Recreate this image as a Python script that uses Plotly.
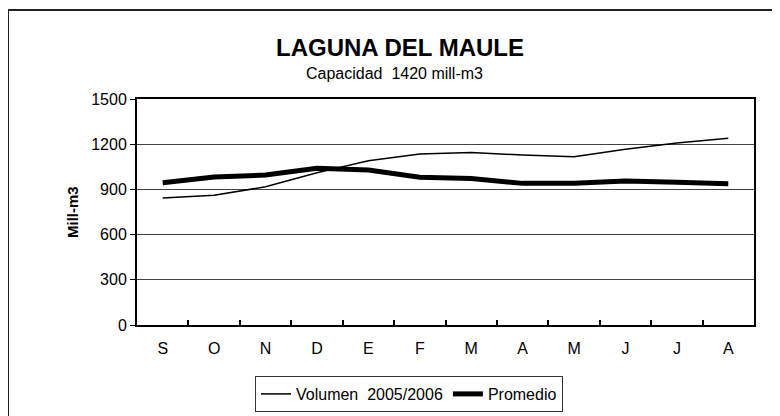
import plotly.graph_objects as go

months = ["S", "O", "N", "D", "E", "F", "M", "A", "M ", "J", "J ", "A "]
month_labels = ["S", "O", "N", "D", "E", "F", "M", "A", "M", "J", "J", "A"]
volumen = [843, 862, 917, 1010, 1090, 1135, 1145, 1128, 1117, 1167, 1208, 1240]
promedio = [944, 982, 995, 1040, 1028, 980, 972, 940, 940, 955, 947, 938]
y_ticks = [0, 300, 600, 900, 1200, 1500]

FONT = "Liberation Sans, Arial, sans-serif"
OFF = 8  # default page body margin
W, H = 780 - OFF, 416 - OFF
# plot area in window pixels: x 137..754, y 99..325
L, R, T, B = 137 - OFF, 780 - 754, 99 - OFF, 416 - 325
pw, ph = W - L - R, H - T - B

def px_x(x):
    return (x - OFF - L) / pw

def px_y(y):
    return (H - B - (y - OFF)) / ph

fig = go.Figure()
fig.add_trace(go.Scatter(x=months, y=volumen, mode="lines", name="Volumen  2005/2006",
                         line=dict(color="black", width=1.5)))
fig.add_trace(go.Scatter(x=months, y=promedio, mode="lines", name="Promedio",
                         line=dict(color="black", width=5)))

fig.update_layout(
    width=W, height=H,
    margin=dict(l=L, r=R, t=T, b=B, pad=0, autoexpand=False),
    paper_bgcolor="white", plot_bgcolor="white",
    font=dict(family=FONT, size=15, color="black"),
    showlegend=True,
    legend=dict(orientation="h", x=px_x(409), y=px_y(412), xanchor="center", yanchor="bottom",
                bordercolor="#333333", borderwidth=1, bgcolor="white",
                font=dict(family=FONT, size=16, color="black"),
                itemwidth=30, tracegroupgap=0),
    xaxis=dict(type="category", tickmode="array", tickvals=months, ticktext=month_labels,
               range=[-0.5, 11.5],
               tickson="boundaries", ticks="inside", ticklen=5, tickwidth=2, tickcolor="black",
               showline=True, linecolor="black", linewidth=2, mirror=True,
               showgrid=False, zeroline=False, ticklabelstandoff=8,
               tickfont=dict(family=FONT, size=16, color="black")),
    yaxis=dict(range=[0, 1500], tickvals=y_ticks, ticks="outside", ticklen=5, tickcolor="black",
               showline=True, linecolor="black", linewidth=2, mirror=True,
               showgrid=True, gridcolor="#444444", gridwidth=1, zeroline=False,
               tickfont=dict(family=FONT, size=16, color="black")),
    annotations=[
        dict(text="<b>LAGUNA DEL MAULE</b>", x=px_x(400), y=px_y(47.5), xref="paper", yref="paper",
             xanchor="center", yanchor="middle", showarrow=False,
             font=dict(family=FONT, size=24, color="black")),
        dict(text="Capacidad  1420 mill-m3", x=px_x(394), y=px_y(74), xref="paper", yref="paper",
             xanchor="center", yanchor="middle", showarrow=False,
             font=dict(family=FONT, size=16, color="black")),
        dict(text="<b>Mill-m3</b>", x=px_x(72), y=px_y(212), xref="paper", yref="paper",
             xanchor="center", yanchor="middle", showarrow=False, textangle=-90,
             font=dict(family=FONT, size=15, color="black")),
    ],
    shapes=[
        dict(type="rect", xref="paper", yref="paper", x0=px_x(8), x1=px_x(776),
             y0=px_y(440), y1=px_y(10), line=dict(color="#222222", width=2), layer="below"),
    ],
)

fig.write_html("out.html")
